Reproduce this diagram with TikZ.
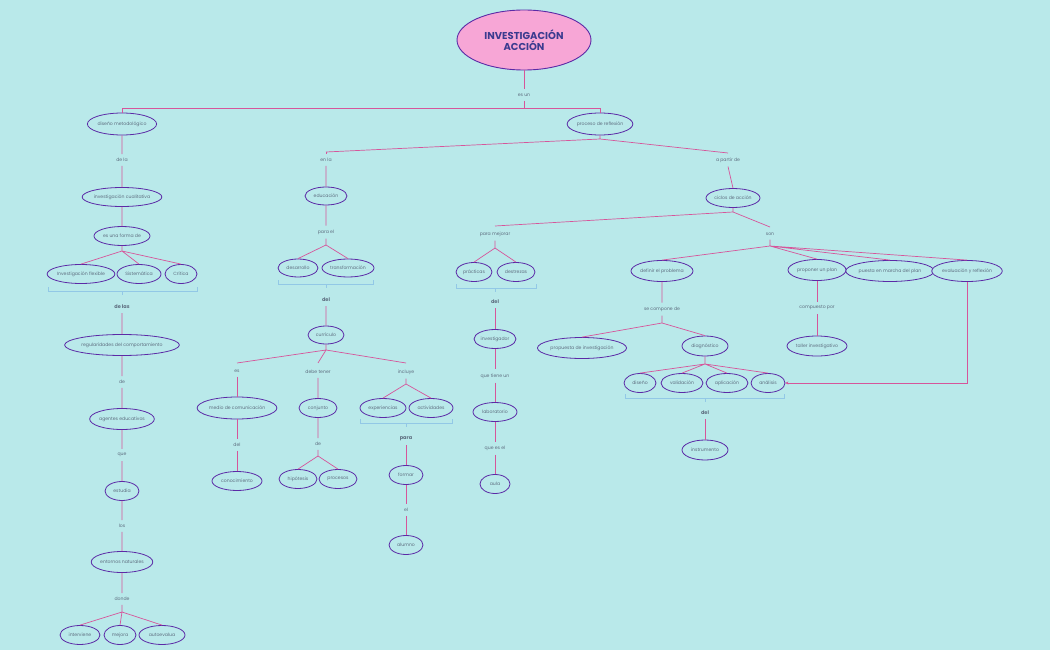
\documentclass[tikz,border=0pt]{standalone}
\usepackage{fontspec}
\setmainfont{Poppins}
\usetikzlibrary{shapes.geometric,arrows.meta}
\definecolor{bg}{HTML}{B9E9EA}
\definecolor{lk}{HTML}{D6559A}
\definecolor{pu}{HTML}{5B2AA6}
\definecolor{tx}{HTML}{5E6E80}
\definecolor{br}{HTML}{92C8E6}
\definecolor{tt}{HTML}{3B3B8F}
\definecolor{pk}{HTML}{F7A6D6}
\tikzset{
 ell/.style={ellipse,draw=pu,line width=0.8pt,fill=bg,inner sep=0pt,minimum height=19pt,text=tx,font=\fontsize{4.6}{5}\selectfont},
 lab/.style={inner sep=4pt,text=tx,font=\fontsize{4.6}{5}\selectfont},
 blab/.style={inner sep=4pt,text=tx,font=\fontsize{5}{6}\selectfont\bfseries},
 lnk/.style={draw=lk,line width=0.7pt},
 brk/.style={draw=br,line width=0.6pt}
}
\begin{document}
\begin{tikzpicture}[x=1pt,y=-1pt]
\fill[bg] (0,0) rectangle (1050,650);
\useasboundingbox (0,0) rectangle (1050,650);
% title
\node[ellipse,draw=pu,line width=0.9pt,fill=pk,minimum width=134pt,minimum height=60pt,inner sep=0pt,text=tt,align=center,font=\fontsize{10}{11.5}\selectfont\bfseries] (T) at (524,40) {INVESTIGACIÓN\\ACCIÓN};
\node[lab] (esun) at (524,95) {es un};
\node[ell,minimum width=68pt,minimum height=22pt] (dm) at (122,124) {diseño metodológico};
\node[ell,minimum width=64pt,minimum height=22pt] (pr) at (600,124) {proceso de reflexión};
\draw[lnk] (T.south) -- (esun.north);
\coordinate (bL) at (122,109); \coordinate (bR) at (600,109);
\draw[lnk,line width=1pt] (esun.south) -- (524,109);
\draw[lnk,line width=1pt] (dm.north) -- (bL) -- (bR) -- (pr.north);
% left column
\node[lab] (dela) at (122,160) {de la};
\node[ell,minimum width=74pt] (ic) at (122,197) {investigación cualitativa};
\node[ell,minimum width=56pt] (euf) at (122,236) {es una forma de};
\node[ell,minimum width=66pt] (if) at (81,274) {Investigación flexible};
\node[ell,minimum width=44pt] (si) at (139,274) {Sistemática};
\node[ell,minimum width=32pt] (cr) at (181,274) {Crítica};
\coordinate (f1) at (122,251);
\draw[lnk] (dm.south) -- (dela.north) (dela.south) -- (ic.north) (ic.south) -- (euf.north) (euf.south) -- (f1) (f1) -- (if.north) (f1) -- (si.north) (f1) -- (cr.north);
\draw[brk] (48,287) -- (48,291) -- (197,291) -- (197,287) (122,291) -- (122,295);
\node[blab] (delas) at (122,307) {de las};
\node[ell,minimum width=104pt,minimum height=21pt] (rc) at (122,345) {regularidades del comportamiento};
\node[lab] (de1) at (122,382) {de};
\node[ell,minimum width=64pt,minimum height=21pt] (ae) at (122,419) {agentes educativos};
\node[lab] (que) at (122,455) {que};
\node[ell,minimum width=34pt] (es) at (122,491) {estudia};
\node[lab] (los) at (122,526) {los};
\node[ell,minimum width=60pt,minimum height=21pt] (en) at (122,562) {entornos naturales};
\node[lab] (don) at (122,599) {donde};
\node[ell,minimum width=40pt] (in) at (80,635) {interviene};
\node[ell,minimum width=32pt] (me) at (120,635) {mejora};
\node[ell,minimum width=46pt] (au) at (162,635) {autoevalua};
\coordinate (f2) at (122,612);
\draw[lnk] (delas.south) -- (rc.north) (rc.south) -- (de1.north) (de1.south) -- (ae.north) (ae.south) -- (que.north) (que.south) -- (es.north) (es.south) -- (los.north) (los.south) -- (en.north) (en.south) -- (don.north) (don.south) -- (f2) (f2) -- (in.north) (f2) -- (me.north) (f2) -- (au.north);
% proceso branches
\coordinate (f3) at (600,139);
\node[lab] (enla) at (326,160) {en la};
\node[lab] (apd) at (728,160) {a partir de};
\draw[lnk] (pr.south) -- (f3) -- (326,152) (f3) -- (728,153);
\draw[lnk] (326,152) -- (enla.north);
\node[ell,minimum width=42pt,minimum height=18pt] (ed) at (326,196) {educación};
\node[lab] (parael) at (326,232) {para el};
\node[ell,minimum width=40pt,minimum height=18pt] (dsr) at (298,268) {desarrollo};
\node[ell,minimum width=52pt,minimum height=18pt] (tr) at (348,268) {transformación};
\coordinate (f4) at (326,245);
\draw[lnk] (enla.south) -- (ed.north) (ed.south) -- (parael.north) (parael.south) -- (f4) (f4) -- (dsr.north) (f4) -- (tr.north);
\draw[brk] (278,280) -- (278,284) -- (373,284) -- (373,280) (326,284) -- (326,288);
\node[blab] (del1) at (326,300) {del};
\node[ell,minimum width=36pt,minimum height=18pt] (cu) at (326,335) {currículo};
\coordinate (f5) at (326,350);
\node[lab] (es2) at (237,371) {es};
\node[lab] (dt) at (318,372) {debe tener};
\node[lab] (inc) at (406,372) {incluye};
\draw[lnk] (del1.south) -- (cu.north) (cu.south) -- (f5) (f5) -- (237,363) (f5) -- (318,363) (f5) -- (406,363);
\node[ell,minimum width=76pt,minimum height=22pt] (mc) at (237,408) {medio de comunicación};
\node[lab] (del2) at (237,445) {del};
\node[ell,minimum width=50pt] (co) at (237,481) {conocimiento};
\draw[lnk] (es2.south) -- (mc.north) (mc.south) -- (del2.north) (del2.south) -- (co.north);
\node[ell,minimum width=38pt] (cj) at (318,408) {conjunto};
\node[lab] (de2) at (318,444) {de};
\node[ell,minimum width=38pt] (hi) at (298,479) {hipótesis};
\node[ell,minimum width=38pt] (pc) at (338,479) {procesos};
\coordinate (f6) at (318,456);
\draw[lnk] (dt.south) -- (cj.north) (cj.south) -- (de2.north) (de2.south) -- (f6) (f6) -- (hi.north) (f6) -- (pc.north);
\node[ell,minimum width=46pt] (ex) at (383,408) {experiencias};
\node[ell,minimum width=44pt] (ac) at (431,408) {actividades};
\coordinate (f7) at (406,384);
\draw[lnk] (inc.south) -- (f7) (f7) -- (ex.north) (f7) -- (ac.north);
\draw[brk] (360,419) -- (360,423) -- (452,423) -- (452,419) (406,423) -- (406,427);
\node[blab] (para) at (406,439) {para};
\node[ell,minimum width=34pt] (fo) at (406,475) {formar};
\node[lab] (el) at (406,510) {el};
\node[ell,minimum width=34pt] (al) at (406,545) {alumno};
\draw[lnk] (para.south) -- (fo.north) (fo.south) -- (el.north) (el.south) -- (al.north);
% ciclos
\node[ell,minimum width=54pt,minimum height=19pt] (ci) at (733,198) {ciclos de acción};
\draw[lnk] (apd.south) -- (ci.north);
\coordinate (f8) at (733,212);
\node[lab] (pm) at (495,234) {para mejorar};
\node[lab] (son) at (770,234) {son};
\draw[lnk] (ci.south) -- (f8) -- (495,226) (f8) -- (770,227);
\node[ell,minimum width=36pt] (pra) at (474,272) {prácticas};
\node[ell,minimum width=38pt] (des) at (516,272) {destrezas};
\coordinate (f9) at (495,248);
\draw[lnk] (pm.south) -- (f9) (f9) -- (pra.north) (f9) -- (des.north);
\draw[brk] (456,284) -- (456,288) -- (536,288) -- (536,284) (495,288) -- (495,292);
\node[blab] (del3) at (495,302) {del};
\node[ell,minimum width=42pt] (iv) at (495,339) {investigador};
\node[lab] (qtu) at (495,376) {que tiene un};
\node[ell,minimum width=44pt] (la) at (495,412) {laboratorio};
\node[lab] (qee) at (495,448) {que es el};
\node[ell,minimum width=30pt] (aula) at (495,484) {aula};
\draw[lnk] (del3.south) -- (iv.north) (iv.south) -- (qtu.north) (qtu.south) -- (la.north) (la.south) -- (qee.north) (qee.south) -- (aula.north);
% son
\coordinate (f10) at (770,246);
\node[ell,minimum width=62pt,minimum height=21pt] (dp) at (662,271) {definir el problema};
\node[ell,minimum width=58pt,minimum height=21pt] (pu) at (817,270) {proponer un plan};
\node[ell,minimum width=82pt,minimum height=21pt] (pmp) at (890,271) {puesta en marcha del plan};
\node[ell,minimum width=70pt,minimum height=21pt] (evr) at (967,271) {evaluación y reflexión};
\draw[lnk] (son.south) -- (f10) (f10) -- (dp.north) (f10) -- (pu.north) (f10) -- (pmp.north) (f10) -- (evr.north);
\node[lab] (scd) at (662,309) {se compone de};
\coordinate (f11) at (662,323);
\node[ell,minimum width=84pt,minimum height=21pt] (pi) at (582,348) {propuesta de investigación};
\node[ell,minimum width=46pt,minimum height=20pt] (dg) at (705,346) {diagnóstico};
\draw[lnk] (dp.south) -- (scd.north) (scd.south) -- (f11) (f11) -- (pi.north) (f11) -- (dg.north);
\coordinate (f12) at (705,364);
\node[ell,minimum width=32pt] (di) at (640,383) {diseño};
\node[ell,minimum width=42pt] (va) at (682,383) {validación};
\node[ell,minimum width=42pt] (ap) at (727,383) {aplicación};
\node[ell,minimum width=34pt] (an) at (768,383) {análisis};
\draw[lnk] (dg.south) -- (f12) (f12) -- (di.north) (f12) -- (va.north) (f12) -- (ap.north) (f12) -- (an.north);
\draw[brk] (625,394) -- (625,398) -- (784,398) -- (784,394) (705,398) -- (705,402);
\node[blab] (del4) at (705,413) {del};
\node[ell,minimum width=46pt,minimum height=20pt] (ins) at (705,450) {instrumento};
\draw[lnk] (del4.south) -- (ins.north);
\node[lab] (cp) at (817,308) {compuesto por};
\node[ell,minimum width=60pt,minimum height=20pt] (ti) at (817,346) {taller investigativo};
\draw[lnk] (pu.south) -- (cp.north) (cp.south) -- (ti.north);
\draw[lnk,-{Stealth[length=3pt,width=3pt]}] (evr.south) |- (an.east);
\end{tikzpicture}
\end{document}
